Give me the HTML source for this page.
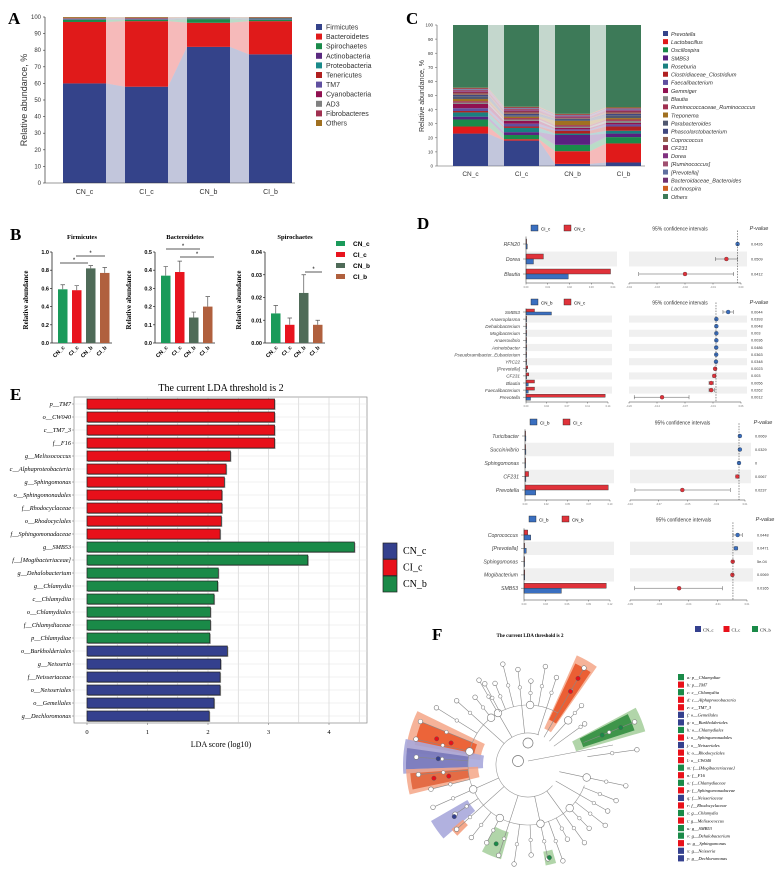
<!DOCTYPE html>
<html><head><meta charset="utf-8"><style>
html,body{margin:0;padding:0;background:#fff;}
svg{display:block;font-family:"Liberation Sans",sans-serif;}
.ser{font-family:"Liberation Serif",serif;}
</style></head><body>
<svg id="fig" width="777" height="878" viewBox="0 0 777 878" xmlns="http://www.w3.org/2000/svg">
<rect width="777" height="878" fill="#fff"/>
<g id="gA"></g>
<g id="gB"></g>
<g id="gC"></g>
<g id="gD"></g>
<g id="gE"></g>
<g id="gF"></g>
</svg>
<script>
// ---------- Panel A data ----------
const aGroups=["CN_c","CI_c","CN_b","CI_b"];
const aTaxa=["Firmicutes","Bacteroidetes","Spirochaetes","Actinobacteria","Proteobacteria","Tenericutes","TM7","Cyanobacteria","AD3","Fibrobacteres","Others"];
const aFirmicutes=[60,58,82,77.5];
const aBacteroidetes=[37,39.5,14.5,20];
const aSpirochaetes=[1.3,0.8,2.2,0.8];
const aActinobacteria=[0.3,0.3,0.3,0.3];
const aProteobacteria=[0.3,0.3,0.3,0.5];
const aTenericutes=[0.2,0.2,0.1,0.2];
const aTM7=[0.1,0.2,0.1,0.1];
const aCyanobacteria=[0.1,0.1,0.1,0.1];
const aAD3=[0.1,0.1,0.1,0.1];
const aFibrobacteres=[0.1,0.1,0.1,0.1];
const aOthers=[0.5,0.4,0.2,0.3];
const aTicks=[0,10,20,30,40,50,60,70,80,90,100];
// ---------- Panel B data ----------
const bGroups=["CN_c","CI_c","CN_b","CI_b"];
const bTitles=["Firmicutes","Bacteroidetes","Spirochaetes"];
const bFirm=[0.59,0.58,0.82,0.77];
const bFirmErr=[0.05,0.05,0.03,0.06];
const bBact=[0.37,0.39,0.14,0.20];
const bBactErr=[0.05,0.06,0.03,0.055];
const bSpiro=[0.013,0.008,0.022,0.008];
const bSpiroErr=[0.0035,0.003,0.008,0.002];
const bFirmTicks=["0.0","0.2","0.4","0.6","0.8","1.0"];
const bBactTicks=["0.0","0.1","0.2","0.3","0.4","0.5"];
const bSpiroTicks=["0.00","0.01","0.02","0.03","0.04"];
// ---------- Panel C data ----------
const cTaxa=["Prevotella","Lactobacillus","Oscillospira","SMB53","Roseburia","Clostridiaceae_Clostridium","Faecalibacterium","Gemmiger","Blautia","Ruminococcaceae_Ruminococcus","Treponema","Parabacteroides","Phascolarctobacterium","Coprococcus","CF231","Dorea","[Ruminococcus]","[Prevotella]","Bacteroidaceae_Bacteroides","Lachnospira","Others"];
const cCNc=[23,5,5,2,3,1,2,3,1,1,1.5,2,1,1,1,0.5,1,0.5,0.5,0.5];
const cCIc=[18,1,3,2,3,1,2,2,1,1,1,1,1,1,1,0.5,1,0.5,0.5,0.5];
const cCNb=[1.5,9,4.5,7,1,2,1,1,1,1,3,1,0.5,0.5,0.5,0.5,0.5,0.5,0.5,0.5];
const cCIb=[2.5,13.5,4.5,2.5,2,3,1.5,1,1.5,1,1,2,1,1,1,0.5,0.5,0.5,0.5,0.5];
// ---------- Panel D data ----------
const d1Names=["RFN20","Dorea","Blautia"];
const d1Blue=[0.0005,0.003,0.017];
const d1Red=[0.0002,0.007,0.034];
const d1Diff=[0.0001,-0.0045,-0.0215];
const d1Lo=[-0.0002,-0.009,-0.0405];
const d1Hi=[0.0004,0,-0.0015];
const d1P=["0.0426","0.0509","0.0412"];
const d2Names=["SMB53","Anaeroplasma","Dehalobacterium","Mogibacterium","Anaerovibrio","Acinetobacter","Pseudoramibacter_Eubacterium","YRC22","[Prevotella]","CF231","Blautia","Faecalibacterium","Prevotella"];
const d2Blue=[0.045,0.001,0.001,0.001,0.001,0.001,0.001,0.001,0.0005,0.001,0.004,0.004,0.008];
const d2Red=[0.015,0.0003,0.0003,0.0003,0.0003,0.0005,0.0005,0.001,0.003,0.005,0.015,0.015,0.14];
const d2Diff=[0.028,0.0008,0.0008,0.0008,0.0008,0.0005,0.0005,0,-0.002,-0.004,-0.011,-0.011,-0.124];
const d2Lo=[0.016,0,0,0,0,0,0,-0.001,-0.004,-0.007,-0.016,-0.016,-0.188];
const d2Hi=[0.04,0.0016,0.0016,0.0016,0.0016,0.001,0.001,0.001,0,-0.001,-0.006,-0.004,-0.062];
const d2P=["0.0044","0.0393","0.0048","0.003","0.0036","0.0486","0.0363","0.0348","0.0023","0.003","0.0056","0.0262","0.0012"];
const d3Names=["Turicibacter","Succinivibrio","Sphingomonas","CF231","Prevotella"];
const d3Blue=[0.001,0.001,0.0003,0.001,0.012];
const d3Red=[0.0002,0.0002,0.0001,0.004,0.093];
const d3Diff=[0.0008,0.0008,0,-0.0015,-0.052];
const d3Lo=[0.0004,0.0004,-0.0003,-0.003,-0.0955];
const d3Hi=[0.0012,0.0012,0.0003,0,-0.008];
const d3P=["0.0069","0.0329","0","0.0067","0.0237"];
const d4Names=["Coprococcus","[Prevotella]","Sphingomonas","Mogibacterium","SMB53"];
const d4Blue=[0.009,0.003,0.0003,0.001,0.05];
const d4Red=[0.005,0.0005,0.0003,0.001,0.11];
const d4Diff=[0.004,0.0025,-0.0002,-0.0005,-0.046];
const d4Lo=[0,0.001,-0.0008,-0.0012,-0.084];
const d4Hi=[0.008,0.004,0.0004,0.0002,-0.009];
const d4P=["0.0448","0.0471","5e-04","0.0069","0.0165"];
// ---------- Panel E data ----------
const eNames=["p__TM7","o__CW040","c__TM7_3","f__F16","g__Melissococcus","c__Alphaproteobacteria","g__Sphingomonas","o__Sphingomonadales","f__Rhodocyclaceae","o__Rhodocyclales","f__Sphingomonadaceae","g__SMB53","f__[Mogibacteriaceae]","g__Dehalobacterium","g__Chlamydia","c__Chlamydiia","o__Chlamydiales","f__Chlamydiaceae","p__Chlamydiae","o__Burkholderiales","g__Neisseria","f__Neisseriaceae","o__Neisseriales","o__Gemellales","g__Dechloromonas"];
const eScores=[3.1,3.1,3.1,3.1,2.37,2.3,2.27,2.23,2.23,2.22,2.2,4.42,3.65,2.17,2.16,2.1,2.04,2.04,2.03,2.32,2.21,2.2,2.2,2.1,2.02];
const eClass=["CI_c","CI_c","CI_c","CI_c","CI_c","CI_c","CI_c","CI_c","CI_c","CI_c","CI_c","CN_b","CN_b","CN_b","CN_b","CN_b","CN_b","CN_b","CN_b","CN_c","CN_c","CN_c","CN_c","CN_c","CN_c"];
const eTicks=[0,1,2,3,4];
// ---------- Panel F data ----------
const fLabels=["a: p__Chlamydiae","b: p__TM7","c: c__Chlamydiia","d: c__Alphaproteobacteria","e: c__TM7_3","f: o__Gemellales","g: o__Burkholderiales","h: o__Chlamydiales","i: o__Sphingomonadales","j: o__Neisseriales","k: o__Rhodocyclales","l: o__CW040","m: f__[Mogibacteriaceae]","n: f__F16","o: f__Chlamydiaceae","p: f__Sphingomonadaceae","q: f__Neisseriaceae","r: f__Rhodocyclaceae","s: g__Chlamydia","t: g__Melissococcus","u: g__SMB53","v: g__Dehalobacterium","w: g__Sphingomonas","x: g__Neisseria","y: g__Dechloromonas"];
const fClass=["CN_b","CI_c","CN_b","CI_c","CI_c","CN_c","CN_c","CN_b","CI_c","CN_c","CI_c","CI_c","CN_b","CI_c","CN_b","CI_c","CN_c","CI_c","CN_b","CI_c","CN_b","CN_b","CI_c","CN_c","CN_c"];
const fLeafAngles=[-120,-112,-104,-96,-88,-80,-72,-60,-48,-36,-22,-8,12,22,30,38,46,54,62,70,78,88,98,108,118,128,138,146,156,166,175,184,193,202,212,222,232,242];
const fLeafLen=[98,88,104,96,84,100,92,112,80,70,115,110,100,95,92,98,88,96,84,102,96,90,100,95,88,92,96,88,104,100,110,112,115,116,108,96,86,92];

const NS="http://www.w3.org/2000/svg";
function el(parent,tag,attrs,text){const e=document.createElementNS(NS,tag);for(const k in attrs)e.setAttribute(k,attrs[k]);if(text!==undefined)e.textContent=text;parent.appendChild(e);return e;}
const classColor={"CN_c":"#34408e","CI_c":"#e8101a","CN_b":"#1a8a48"};

// ================= Panel A =================
(function(){
const g=document.getElementById('gA');
const t=el(g,'text',{x:8,y:24,'font-size':17,'font-weight':'bold','class':'ser'},'A');

const colors=["#34438a","#e01a1a","#1a8a4a","#5a2a80","#1a8a8a","#b02020","#6050a0","#901050","#808080","#a03050","#a07020"];
const series=[aFirmicutes,aBacteroidetes,aSpirochaetes,aActinobacteria,aProteobacteria,aTenericutes,aTM7,aCyanobacteria,aAD3,aFibrobacteres,aOthers];
const y=v=>183-v*1.66, bx=i=>63+i*62, bw=43;
const ax=el(g,'line',{x1:45,y1:y(100),x2:45,y2:183,stroke:'#333','stroke-width':0.7});

aTicks.forEach(v=>{el(g,'line',{x1:43,x2:45,y1:y(v),y2:y(v),stroke:'#333','stroke-width':0.6});
 const l=el(g,'text',{x:41,y:y(v)+2,'font-size':6,'text-anchor':'end',fill:'#333'},v);
 });
const yt=el(g,'text',{x:0,y:0,'font-size':9,fill:'#333','text-anchor':'middle',transform:'translate(27,100) rotate(-90)'},'Relative abundance, %');

const cum=aGroups.map(()=>0);
series.forEach((s,k)=>{
 const base=cum.slice();
 s.forEach((v,i)=>cum[i]+=v);
 for(let i=0;i<3;i++){
  const p=el(g,'polygon',{points:`${bx(i)+bw},${y(base[i])} ${bx(i+1)},${y(base[i+1])} ${bx(i+1)},${y(cum[i+1])} ${bx(i)+bw},${y(cum[i])}`,fill:colors[k],'fill-opacity':0.3});
  
 }
 s.forEach((v,i)=>{const r=el(g,'rect',{x:bx(i),y:y(cum[i]),width:bw,height:Math.max(0,y(base[i])-y(cum[i])),fill:colors[k]});
  });
});
el(g,'line',{x1:45,x2:295,y1:183,y2:183,stroke:'#333','stroke-width':0.6});
aGroups.forEach((n,i)=>{const l=el(g,'text',{x:bx(i)+bw/2,y:194,'font-size':7,'text-anchor':'middle',fill:'#333'},n);
 });
aTaxa.forEach((n,k)=>{const yy=24+k*9.6;
 const r=el(g,'rect',{x:316,y:yy,width:6,height:6,fill:colors[k]});
 
 const l=el(g,'text',{x:326,y:yy+5.5,'font-size':7,fill:'#333'},n);
 });
})();

// ================= Panel B =================
(function(){
const g=document.getElementById('gB');
const t=el(g,'text',{x:10,y:240,'font-size':17,'font-weight':'bold','class':'ser'},'B');

const cols=["#1a9a5a","#e8141e","#4f6b58","#b0603e"];
const sets=[[bFirm,bFirmErr,bFirmTicks,1.0,52],[bBact,bBactErr,bBactTicks,0.5,155],[bSpiro,bSpiroErr,bSpiroTicks,0.04,265]];
sets.forEach((s,si)=>{
 const [vals,errs,ticks,max,axx]=s;
 const y=v=>343-v/max*91;
 const tt=el(g,'text',{x:axx+30,y:239,'font-size':6.5,'font-weight':'bold','text-anchor':'middle','class':'ser'},bTitles[si]);
 
 const yl=el(g,'text',{x:0,y:0,'font-size':7,'font-weight':'bold','text-anchor':'middle','class':'ser',transform:`translate(${axx-24},300) rotate(-90)`},'Relative abundance');
 
 el(g,'line',{x1:axx,x2:axx,y1:y(max),y2:343,stroke:'#222','stroke-width':0.8});
 el(g,'line',{x1:axx,x2:axx+60,y1:343,y2:343,stroke:'#222','stroke-width':0.8});
 ticks.forEach(tv=>{const v=parseFloat(tv);el(g,'line',{x1:axx-2,x2:axx,y1:y(v),y2:y(v),stroke:'#222','stroke-width':0.7});
  const l=el(g,'text',{x:axx-3,y:y(v)+2,'font-size':5.5,'font-weight':'bold','text-anchor':'end'},tv);
  });
 vals.forEach((v,i)=>{const x=axx+6+i*14;
  const r=el(g,'rect',{x:x,y:y(v),width:9.5,height:343-y(v),fill:cols[i]});
  
  const e=el(g,'path',{d:`M${x+4.75},${y(v)} V${y(v+errs[i])} M${x+2.5},${y(v+errs[i])} H${x+7}`,stroke:'#555','stroke-width':0.7,fill:'none'});
  
  const l=el(g,'text',{x:0,y:0,'font-size':5.5,'font-weight':'bold','text-anchor':'end',transform:`translate(${x+7},348) rotate(-45)`},bGroups[i]);
  });
});
const sig=[[60,88,263],[76,105,256],[166,200,249],[180,214,257],[305,322,272]];
sig.forEach(s=>{el(g,'line',{x1:s[0],x2:s[1],y1:s[2],y2:s[2],stroke:'#222','stroke-width':0.7});
 const st=el(g,'text',{x:(s[0]+s[1])/2,y:s[2]-1,'font-size':6,'text-anchor':'middle'},'*');
 });
bGroups.forEach((n,i)=>{const yy=241+i*11;
 el(g,'rect',{x:336,y:yy,width:9,height:5,fill:cols[i]});
 const l=el(g,'text',{x:353,y:yy+5,'font-size':6.5,'font-weight':'bold'},n);
 });
})();

// ================= Panel C =================
(function(){
const g=document.getElementById('gC');
const t=el(g,'text',{x:406,y:24,'font-size':17,'font-weight':'bold','class':'ser'},'C');

const colors=["#34438a","#e01a1a","#1a8a4a","#5a2080","#1a8080","#b02020","#6050a0","#901050","#888888","#a03050","#a07020","#505870","#404880","#906050","#903050","#803080","#a05070","#6070a0","#703070","#d06020","#3d7a58"];
const groups=[cCNc,cCIc,cCNb,cCIb];
const names=["CN_c","CI_c","CN_b","CI_b"];
const y=v=>166-v*1.41, bx=i=>453+i*51, bw=35;
el(g,'line',{x1:437,x2:437,y1:y(100),y2:166,stroke:'#555','stroke-width':0.6});
el(g,'line',{x1:437,x2:645,y1:166,y2:166,stroke:'#555','stroke-width':0.6});
aTicks.forEach(v=>{el(g,'line',{x1:435,x2:437,y1:y(v),y2:y(v),stroke:'#555','stroke-width':0.5});
 const l=el(g,'text',{x:433,y:y(v)+1.7,'font-size':4.5,'text-anchor':'end',fill:'#333'},v);
 });
const yt=el(g,'text',{x:0,y:0,'font-size':7,fill:'#333','text-anchor':'middle',transform:'translate(424,96) rotate(-90)'},'Relative abundance, %');

const cum=[0,0,0,0];
for(let k=0;k<21;k++){
 const base=cum.slice();
 groups.forEach((s,i)=>{cum[i]+= k<20 ? s[k] : 100-base[i];});
 for(let i=0;i<3;i++){
  const p=el(g,'polygon',{points:`${bx(i)+bw},${y(base[i])} ${bx(i+1)},${y(base[i+1])} ${bx(i+1)},${y(cum[i+1])} ${bx(i)+bw},${y(cum[i])}`,fill:colors[k],'fill-opacity':0.3});
  
 }
 for(let i=0;i<4;i++){const r=el(g,'rect',{x:bx(i),y:y(cum[i]),width:bw,height:Math.max(0,y(base[i])-y(cum[i])),fill:colors[k]});
  }
}
names.forEach((n,i)=>{const l=el(g,'text',{x:bx(i)+bw/2,y:176,'font-size':6.5,'text-anchor':'middle',fill:'#333'},n);
 });
cTaxa.forEach((n,k)=>{const yy=31+k*8.15;
 el(g,'rect',{x:663,y:yy,width:5,height:5,fill:colors[k]});
 const l=el(g,'text',{x:671,y:yy+4.8,'font-size':5.5,'font-style':'italic',fill:'#333'},n);
 });
})();

// ================= Panel D =================
(function(){
const g=document.getElementById('gD');
const t=el(g,'text',{x:417,y:229,'font-size':17,'font-weight':'bold','class':'ser'},'D');

const BL="#3a6fc0", RD="#e0323a";
function sub(cfg){
 const {names,blue,red,diff,lo,hi,p,leg,legY,rows,rowH,bx0,bx1,bmax,cx0,cx1,cmin,cmax,axY,small}=cfg;
 el(g,'rect',{x:bx0+5,y:legY-4,width:7,height:6,fill:BL,stroke:'#222','stroke-width':0.4});
 el(g,'text',{x:bx0+15,y:legY+1.5,'font-size':4.5},leg[0]);
 el(g,'rect',{x:bx0+38,y:legY-4,width:7,height:6,fill:RD,stroke:'#222','stroke-width':0.4});
 el(g,'text',{x:bx0+48,y:legY+1.5,'font-size':4.5},leg[1]);
 const ci=el(g,'text',{x:(cx0+cx1)/2-5,y:legY+1.5,'font-size':5,'text-anchor':'middle',fill:'#333'},'95% confidence intervals');
 
 el(g,'text',{x:cx1+18,y:legY+1,'font-size':5.5,'font-style':'italic',fill:'#333','text-anchor':'middle'},'P-value');
 const xb=v=>bx0+v/bmax*(bx1-bx0);
 const xc=v=>cx0+(v-cmin)/(cmax-cmin)*(cx1-cx0);
 names.forEach((n,i)=>{const yy=rows+i*rowH;
  if(i%2===1){el(g,'rect',{x:bx0,y:yy-rowH/2,width:bx1-bx0+4,height:rowH,fill:'#f0f0f0'});
   el(g,'rect',{x:cx0,y:yy-rowH/2,width:cx1-cx0+6,height:rowH,fill:'#f0f0f0'});}
  const l=el(g,'text',{x:bx0-6,y:yy+1.8,'font-size':small?4.6:5.2,'font-style':'italic','text-anchor':'end',fill:'#444'},n);
  
  el(g,'line',{x1:bx0-3,x2:bx0,y1:yy,y2:yy,stroke:'#333','stroke-width':0.4});
  const hh=Math.min(rowH*0.42,5);
  const r1=el(g,'rect',{x:bx0,y:yy-hh,width:Math.max(0.6,xb(red[i])-bx0),height:hh,fill:RD,stroke:'#333','stroke-width':0.4});
  
  const r2=el(g,'rect',{x:bx0,y:yy,width:Math.max(0.6,xb(blue[i])-bx0),height:hh,fill:BL,stroke:'#333','stroke-width':0.4});
  
  el(g,'path',{d:`M${xc(lo[i])},${yy} H${xc(hi[i])} M${xc(lo[i])},${yy-2} V${yy+2} M${xc(hi[i])},${yy-2} V${yy+2}`,stroke:'#555','stroke-width':0.5,fill:'none'});
  const c=el(g,'circle',{cx:xc(diff[i]),cy:yy,r:2,fill:diff[i]>=0?BL:RD,stroke:'#333','stroke-width':0.3});
  
  const pt=el(g,'text',{x:cx1+10,y:yy+1.3,'font-size':3.8,fill:'#333'},p[i]);
  
 });
 el(g,'line',{x1:bx0,x2:bx0,y1:rows-rowH/2,y2:axY,stroke:'#333','stroke-width':0.5});
 el(g,'line',{x1:bx0,x2:bx1,y1:axY,y2:axY,stroke:'#333','stroke-width':0.5});
 el(g,'line',{x1:cx0,x2:cx1,y1:axY,y2:axY,stroke:'#333','stroke-width':0.5});
 for(let k=0;k<=4;k++){const xx=bx0+k*(bx1-bx0)/4;el(g,'line',{x1:xx,x2:xx,y1:axY,y2:axY+1.5,stroke:'#333','stroke-width':0.4});
  el(g,'text',{x:xx,y:axY+5,'font-size':2.5,'text-anchor':'middle',fill:'#777'},(bmax*k/4).toFixed(2));
  const xc2=cx0+k*(cx1-cx0)/4;el(g,'line',{x1:xc2,x2:xc2,y1:axY,y2:axY+1.5,stroke:'#333','stroke-width':0.4});
  el(g,'text',{x:xc2,y:axY+5,'font-size':2.5,'text-anchor':'middle',fill:'#777'},(cmin+k*(cmax-cmin)/4).toFixed(2));}
 el(g,'line',{x1:xc(0),x2:xc(0),y1:rows-rowH/2-6,y2:axY,stroke:'#222','stroke-width':0.5,'stroke-dasharray':'1.5,1.2'});
}
sub({names:d1Names,blue:d1Blue,red:d1Red,diff:d1Diff,lo:d1Lo,hi:d1Hi,p:d1P,leg:["CI_c","CN_c"],legY:229,rows:244,rowH:15,bx0:526,bx1:613,bmax:0.035,cx0:629,cx1:741,cmin:-0.0445,cmax:0.0015,axY:283});
sub({names:d2Names,blue:d2Blue,red:d2Red,diff:d2Diff,lo:d2Lo,hi:d2Hi,p:d2P,leg:["CN_b","CN_c"],legY:303,rows:312,rowH:7.1,bx0:526,bx1:608,bmax:0.145,cx0:629,cx1:741,cmin:-0.2,cmax:0.0575,axY:402,small:true});
sub({names:d3Names,blue:d3Blue,red:d3Red,diff:d3Diff,lo:d3Lo,hi:d3Hi,p:d3P,leg:["CI_b","CI_c"],legY:423,rows:436,rowH:13.5,bx0:525,bx1:610,bmax:0.095,cx0:630,cx1:745,cmin:-0.1,cmax:0.0055,axY:500});
sub({names:d4Names,blue:d4Blue,red:d4Red,diff:d4Diff,lo:d4Lo,hi:d4Hi,p:d4P,leg:["CI_b","CN_b"],legY:520,rows:535,rowH:13.3,bx0:524,bx1:610,bmax:0.115,cx0:630,cx1:747,cmin:-0.088,cmax:0.012,axY:600});
})();

// ================= Panel E =================
(function(){
const g=document.getElementById('gE');
const t=el(g,'text',{x:10,y:400,'font-size':17,'font-weight':'bold','class':'ser'},'E');

const tt=el(g,'text',{x:221,y:391,'font-size':10,'text-anchor':'middle','class':'ser'},'The current LDA threshold is 2');

const x=v=>87+v*60.5, y=i=>404+i*13;
el(g,'rect',{x:74,y:397,width:293,height:326,fill:'#fff',stroke:'#888','stroke-width':0.7});
for(let k=0;k<=9;k++){el(g,'line',{x1:x(k*0.5),x2:x(k*0.5),y1:397,y2:723,stroke:'#ccc','stroke-width':0.6});}
eNames.forEach((n,i)=>{el(g,'line',{x1:74,x2:367,y1:y(i),y2:y(i),stroke:'#e2e2e2','stroke-width':0.5});});
eNames.forEach((n,i)=>{
 el(g,'rect',{x:x(0)+1,y:y(i)-4,width:x(eScores[i])-x(0),height:10,fill:'#aaa'});
 const r=el(g,'rect',{x:x(0),y:y(i)-5,width:x(eScores[i])-x(0),height:10,fill:classColor[eClass[i]],stroke:'#222','stroke-width':0.7});
 
 el(g,'line',{x1:72,x2:74,y1:y(i),y2:y(i),stroke:'#666','stroke-width':0.5});
 const l=el(g,'text',{x:71,y:y(i)+2.2,'font-size':6.3,'font-style':'italic','text-anchor':'end','class':'ser'},n);
 
});
eTicks.forEach(v=>{el(g,'line',{x1:x(v),x2:x(v),y1:723,y2:725,stroke:'#666','stroke-width':0.5});
 const l=el(g,'text',{x:x(v),y:734,'font-size':6.5,'text-anchor':'middle','class':'ser'},v);
 });
const xl=el(g,'text',{x:221,y:747,'font-size':8,'text-anchor':'middle','class':'ser'},'LDA score (log10)');

["CN_c","CI_c","CN_b"].forEach((n,i)=>{
 const r=el(g,'rect',{x:383,y:543+i*16.5,width:14,height:16,fill:classColor[n],stroke:'#222','stroke-width':0.7});
 
 const l=el(g,'text',{x:403,y:554+i*16.5,'font-size':10,'class':'ser'},n);
 });
})();

// ================= Panel F =================
(function(){
const g=document.getElementById('gF');
const t=el(g,'text',{x:432,y:640,'font-size':17,'font-weight':'bold','class':'ser'},'F');

const tt=el(g,'text',{x:530,y:637,'font-size':5,'font-weight':'bold','text-anchor':'middle','class':'ser'},'The current LDA threshold is 2');

["CN_c","CI_c","CN_b"].forEach((n,i)=>{
 el(g,'rect',{x:695+i*28.5,y:626,width:6,height:6,fill:classColor[n]});
 const l=el(g,'text',{x:703+i*28.5,y:631.5,'font-size':4.5,'class':'ser'},n);
 });
const cx=528,cy=765;
const P=(a,r)=>[cx+r*Math.cos(a*Math.PI/180),cy+r*Math.sin(a*Math.PI/180)];
function wedge(a1,a2,r1,r2,fill,op){const [x1,y1]=P(a1,r1),[x2,y2]=P(a2,r1),[x3,y3]=P(a2,r2),[x4,y4]=P(a1,r2);
 const w=el(g,'path',{d:`M${x1},${y1} A${r1},${r1} 0 0 1 ${x2},${y2} L${x3},${y3} A${r2},${r2} 0 0 0 ${x4},${y4} Z`,fill:fill,'fill-opacity':op});
 }
wedge(-66,-55,40,120,'#f4a080',0.8);wedge(-65,-56,50,112,'#e84a1a',0.8);
wedge(-28,-16,50,122,'#a8d0a0',0.9);wedge(-27,-18,58,112,'#2a8a3a',0.85);
wedge(186,206,48,123,'#f4a080',0.8);wedge(190,202,55,115,'#e84a1a',0.75);
wedge(176,192,45,125,'#a8a8dc',0.9);wedge(178,188,60,122,'#6a6ab0',0.7);
wedge(166,178,50,122,'#f4a080',0.8);wedge(168,176,60,118,'#e05a30',0.8);
wedge(139,150,70,112,'#a8a8dc',0.9);wedge(135,140,85,100,'#f4a080',0.9);
wedge(106,118,70,98,'#a8d0a0',0.9);wedge(74,80,88,102,'#a8d0a0',0.9);
function arc(r,a1,a2){const a=P(a1,r),b=P(a2,r);
 const p=el(g,'path',{d:`M${a[0]},${a[1]} A${r},${r} 0 1 1 ${b[0]},${b[1]}`,fill:'none',stroke:'#999','stroke-width':0.6});
 }
arc(32,40,290);arc(60,20,300);
fLeafAngles.forEach((a,i)=>{
 const [x1,y1]=P(a,a%3===0?32:60),[x2,y2]=P(a,fLeafLen[i]);
 const ln=el(g,'line',{x1:x1,y1:y1,x2:x2,y2:y2,stroke:'#888','stroke-width':0.6});
 
 const c=el(g,'circle',{cx:x2,cy:y2,r:2.3,fill:'#fff',stroke:'#777','stroke-width':0.6});
 
 const [mx,my]=P(a,(60+fLeafLen[i])/2);
 el(g,'circle',{cx:mx,cy:my,r:1.8,fill:'#fff',stroke:'#777','stroke-width':0.5});
 if(i%4===0){const [nx,ny]=P(a,60);el(g,'circle',{cx:nx,cy:ny,r:3.8,fill:'#fff',stroke:'#777','stroke-width':0.6});}
});
el(g,'circle',{cx:cx-10,cy:cy-4,r:5.5,fill:'#fff',stroke:'#777','stroke-width':0.7});
el(g,'circle',{cx:cx,cy:cy-22,r:5,fill:'#fff',stroke:'#777','stroke-width':0.7});
el(g,'line',{x1:cx,y1:cy-4,x2:cx+85,y2:cy-20,stroke:'#888','stroke-width':0.6});
[[-60,85,'#e8101a'],[-60,100,'#e8101a'],[-22,80,'#1a8a48'],[-22,100,'#1a8a48'],[196,80,'#e8101a'],[196,95,'#e8101a'],[184,90,'#34408e'],[172,80,'#e8101a'],[172,95,'#e8101a'],[145,90,'#34408e'],[112,85,'#1a8a48'],[77,95,'#1a8a48']].forEach(n=>{
 const [x,y]=P(n[0],n[1]);const c=el(g,'circle',{cx:x,cy:y,r:2.2,fill:n[2],stroke:'#555','stroke-width':0.4});
 });
fLabels.forEach((n,i)=>{const yy=674+i*7.55;
 el(g,'rect',{x:678,y:yy,width:6,height:6.2,fill:classColor[fClass[i]]});
 const l=el(g,'text',{x:687,y:yy+4.8,'font-size':4.5,'font-style':'italic','class':'ser'},n);
 });
})();
</script>
</body></html>
